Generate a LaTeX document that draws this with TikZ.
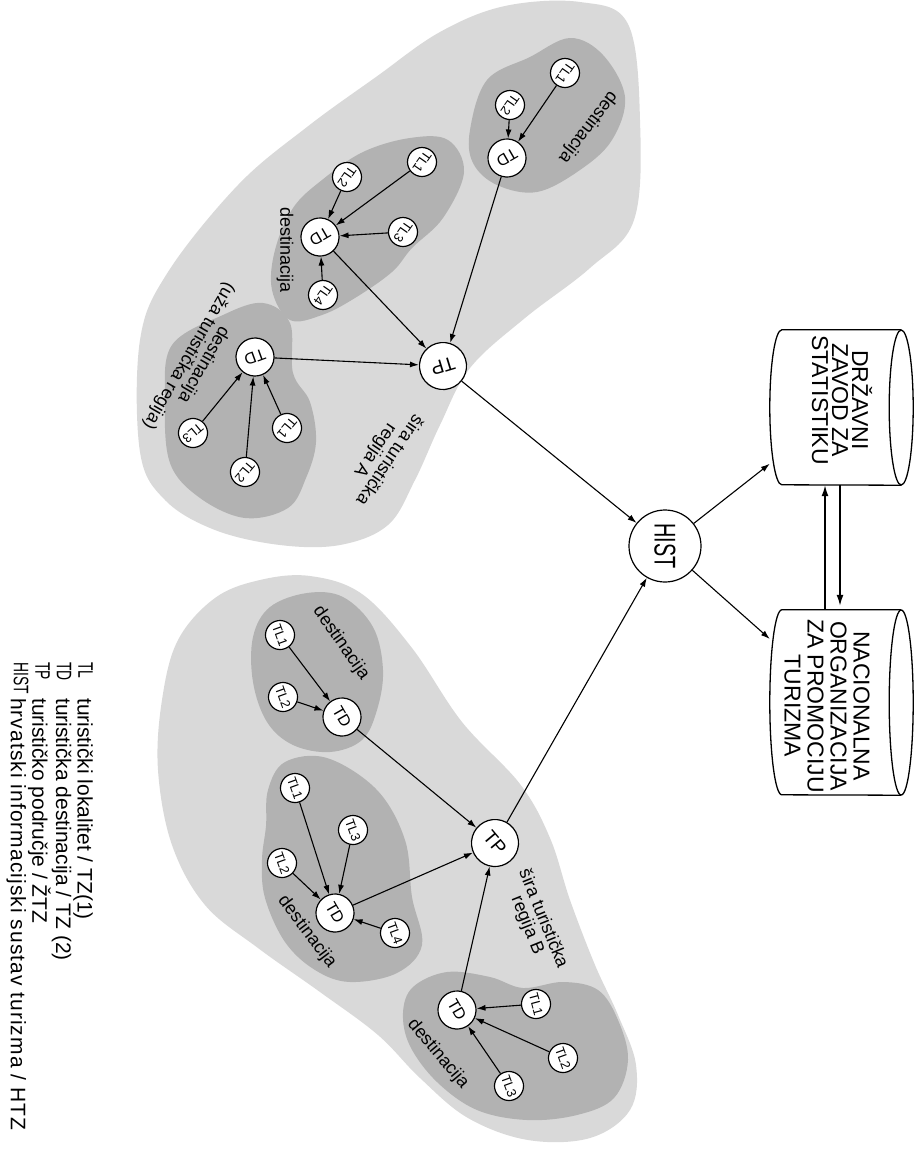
\documentclass[tikz,border=0pt]{standalone}
\usepackage{fontspec}
\setmainfont{Liberation Sans}
\newfontfamily\narrowfont{Liberation Sans}[FakeStretch=0.66]
\usepackage{tikz}
\usetikzlibrary{arrows.meta}
\definecolor{region}{gray}{0.85}
\definecolor{dest}{gray}{0.70}

\tikzset{
  tl/.style={circle,draw,line width=1.2pt,fill=white,inner sep=0pt,minimum size=29pt,font=\fontsize{13}{13}\selectfont},
  td/.style={circle,draw,line width=1.2pt,fill=white,inner sep=0pt,minimum size=38pt,font=\fontsize{16}{16}\selectfont},
  tp/.style={circle,draw,line width=1.2pt,fill=white,inner sep=0pt,minimum size=47pt,font=\fontsize{19}{19}\selectfont},
  lbl/.style={inner sep=0pt,align=center,font=\fontsize{18}{17}\selectfont},
  arr/.style={line width=1.1pt,-{Latex[length=9pt,width=6pt]}},
  bigarr/.style={line width=1.5pt,-{Latex[length=11pt,width=7pt]}},
  drumbox/.style={rectangle,inner sep=0pt,minimum width=143pt},
  drumtext/.style={inner sep=0pt,align=center,rotate=-90},
  legend/.style={anchor=north west,rotate=-90,inner sep=0pt,align=left},
}

\newcommand{\drum}[2]{%
  \draw[line width=1.3pt] ([xshift=-12pt]#1.north east) -- ([xshift=12pt]#1.north west)
    arc[start angle=90,end angle=270,x radius=12pt,y radius=#2] -- ([xshift=-12pt]#1.south east);
  \draw[line width=1.3pt] ([xshift=-12pt]#1.east) ellipse[x radius=12pt,y radius=#2];
}

\begin{document}
\begin{tikzpicture}[x=1pt,y=-1pt]
	\useasboundingbox (0,0) rectangle (916,1176);
	\fill[white] (0,0) rectangle (916,1176);

	\fill[region] plot[smooth cycle,tension=0.6] coordinates {(140,340) (168,272) (238,185) (307,127) (376,77) (440,32) (505,6) (580,2) (628,24) (640,120) (634,220) (590,268) (525,318) (470,368) (440,425) (415,480) (388,525) (340,545) (280,545) (215,530) (165,500) (140,452)};
	\fill[region] plot[smooth cycle,tension=0.6] coordinates {(158,770) (162,700) (178,640) (215,598) (260,580) (310,576) (362,594) (412,648) (462,722) (520,784) (550,838) (570,900) (595,965) (618,1015) (636,1065) (630,1110) (590,1138) (528,1140) (468,1118) (420,1078) (378,1035) (320,992) (258,948) (205,905) (172,845)};
	\fill[dest] plot[smooth cycle,tension=0.6] coordinates {(470,130) (487,80) (530,57) (570,38) (603,55) (625,97) (612,140) (580,170) (537,192) (497,185) (473,163)};
	\fill[dest] plot[smooth cycle,tension=0.6] coordinates {(275,250) (293,208) (322,180) (363,152) (410,138) (448,140) (464,172) (443,218) (412,248) (392,272) (355,298) (322,315) (290,320) (272,290)};
	\fill[dest] plot[smooth cycle,tension=0.6] coordinates {(172,345) (223,315) (263,303) (290,323) (293,373) (310,402) (316,442) (306,478) (288,508) (245,518) (200,498) (170,463) (165,400)};
	\fill[dest] plot[smooth cycle,tension=0.6] coordinates {(253,637) (270,607) (307,593) (343,597) (373,627) (383,670) (377,710) (362,740) (330,752) (293,745) (267,722) (253,682)};
	\fill[dest] plot[smooth cycle,tension=0.6] coordinates {(268,790) (285,762) (327,758) (377,790) (405,840) (412,897) (422,945) (397,973) (350,982) (315,970) (285,942) (265,898) (262,860) (266,826)};
	\fill[dest] plot[smooth cycle,tension=0.6] coordinates {(403,1013) (413,987) (447,972) (490,977) (523,988) (563,982) (598,990) (618,1020) (628,1060) (614,1098) (577,1115) (527,1120) (477,1110) (437,1082) (410,1046)};

	\coordinate (cHist) at (665,546);
	\coordinate (cTpA) at (443,366);
	\coordinate (cTpB) at (495,843);
	\coordinate (cA1) at (507,158);
	\coordinate (cA11) at (565,73);
	\coordinate (cA12) at (510,105);
	\coordinate (cA2) at (320,237);
	\coordinate (cA21) at (422,162);
	\coordinate (cA22) at (347,177);
	\coordinate (cA23) at (403,232);
	\coordinate (cA24) at (323,295);
	\coordinate (cA3) at (255,357);
	\coordinate (cA31) at (287,428);
	\coordinate (cA32) at (245,472);
	\coordinate (cA33) at (193,433);
	\coordinate (cB1) at (342,717);
	\coordinate (cB11) at (280,635);
	\coordinate (cB12) at (283,697);
	\coordinate (cB2) at (335,913);
	\coordinate (cB21) at (295,788);
	\coordinate (cB22) at (282,863);
	\coordinate (cB23) at (353,830);
	\coordinate (cB24) at (395,933);
	\coordinate (cB3) at (457,1010);
	\coordinate (cB31) at (536,1004);
	\coordinate (cB32) at (563,1058);
	\coordinate (cB33) at (509,1086);

	\node (dzs) at (841.5,407.5) [drumbox,minimum height=155pt] {};
	\node (nopt) at (841.5,702.5) [drumbox,minimum height=185pt] {};
	\drum{dzs}{77.5pt}
	\drum{nopt}{92.5pt}
	\node (dzsText) at (842,400) [drumtext,font=\fontsize{23}{20}\selectfont] {DRŽAVNI\\ZAVOD ZA\\STATISTIKU};
	\node (noptText) at (827,706) [drumtext,font=\fontsize{23}{23}\selectfont] {NACIONALNA\\ORGANIZACIJA\\ZA PROMOCIJU\\TURIZMA};

	\node (hist) at (cHist) [circle,draw,line width=1.2pt,fill=white,inner sep=0pt,minimum size=72pt,rotate=-90,font=\narrowfont\fontsize{30}{30}\selectfont] {HIST};
	\node (tpA) at (cTpA) [tp,rotate=-163] {TP};
	\node (tpB) at (cTpB) [tp,rotate=-50] {TP};

	\node (tdA1) at (cA1) [td,rotate=-150] {TD};
	\node (tlA11) at (cA11) [tl,rotate=-125] {TL1};
	\node (tlA12) at (cA12) [tl,rotate=-125] {TL2};
	\node (tdA2) at (cA2) [td,rotate=-150] {TD};
	\node (tlA21) at (cA21) [tl,rotate=-125] {TL1};
	\node (tlA22) at (cA22) [tl,rotate=-125] {TL2};
	\node (tlA23) at (cA23) [tl,rotate=-125] {TL3};
	\node (tlA24) at (cA24) [tl,rotate=-125] {TL4};
	\node (tdA3) at (cA3) [td,rotate=-160] {TD};
	\node (tlA31) at (cA31) [tl,rotate=-130] {TL1};
	\node (tlA32) at (cA32) [tl,rotate=-130] {TL2};
	\node (tlA33) at (cA33) [tl,rotate=-140] {TL3};

	\node (tdB1) at (cB1) [td,rotate=-60] {TD};
	\node (tlB11) at (cB11) [tl,rotate=-70] {TL1};
	\node (tlB12) at (cB12) [tl,rotate=-70] {TL2};
	\node (tdB2) at (cB2) [td,rotate=-60] {TD};
	\node (tlB21) at (cB21) [tl,rotate=-70] {TL1};
	\node (tlB22) at (cB22) [tl,rotate=-70] {TL2};
	\node (tlB23) at (cB23) [tl,rotate=-70] {TL3};
	\node (tlB24) at (cB24) [tl,rotate=-70] {TL4};
	\node (tdB3) at (cB3) [td,rotate=-60] {TD};
	\node (tlB31) at (cB31) [tl,rotate=-75] {TL1};
	\node (tlB32) at (cB32) [tl,rotate=-70] {TL2};
	\node (tlB33) at (cB33) [tl,rotate=-70] {TL3};

	\node (destA1) at (588,127) [lbl,rotate=-127] {destinacija};
	\node (destA2) at (285,250) [lbl,rotate=-90] {destinacija};
	\node (destA3) at (196,360) [lbl,rotate=-120] {destinacija\\(uža turistička regija)};
	\node (regA) at (382,455) [lbl,rotate=-124] {šira turistička\\regija A};
	\node (destB1) at (341,643) [lbl,rotate=-55] {destinacija};
	\node (destB2) at (307,932) [lbl,rotate=-53] {destinacija};
	\node (destB3) at (438,1054) [lbl,rotate=-50] {destinacija};
	\node (regB) at (535,922) [lbl,rotate=-68] {šira turistička\\regija B};

	\draw[arr] (tlA11) to[] (tdA1);
	\draw[arr] (tlA12) to[] (tdA1);
	\draw[arr] (tlA21) to[] (tdA2);
	\draw[arr] (tlA22) to[] (tdA2);
	\draw[arr] (tlA23) to[] (tdA2);
	\draw[arr] (tlA24) to[] (tdA2);
	\draw[arr] (tlA31) to[] (tdA3);
	\draw[arr] (tlA32) to[] (tdA3);
	\draw[arr] (tlA33) to[] (tdA3);
	\draw[arr] (tdA1) to[] (tpA);
	\draw[arr] (tdA2) to[] (tpA);
	\draw[arr] (tdA3) to[] (tpA);
	\draw[arr] (tlB11) to[] (tdB1);
	\draw[arr] (tlB12) to[] (tdB1);
	\draw[arr] (tlB21) to[] (tdB2);
	\draw[arr] (tlB22) to[] (tdB2);
	\draw[arr] (tlB23) to[] (tdB2);
	\draw[arr] (tlB24) to[] (tdB2);
	\draw[arr] (tlB31) to[] (tdB3);
	\draw[arr] (tlB32) to[] (tdB3);
	\draw[arr] (tlB33) to[] (tdB3);
	\draw[arr] (tdB1) to[] (tpB);
	\draw[arr] (tdB2) to[] (tpB);
	\draw[arr] (tdB3) to[] (tpB);
	\draw[arr] (tpA) to[] (hist);
	\draw[arr] (tpB) to[] (hist);
	\draw[arr] (hist) to[] (dzs);
	\draw[arr] (hist) to[] (nopt);
	\draw[bigarr] ([xshift=-16.5pt]nopt.north) to[] ([xshift=-16.5pt]dzs.south);
	\draw[bigarr,shorten >=4pt] ([xshift=-1.5pt]dzs.south) to[] ([xshift=-1.5pt]nopt.north);

	\node (legAbbr) at (93,662) [legend,font=\narrowfont\fontsize{21}{21.5}\selectfont] {TL\\TD\\TP\\HIST};
	\node (legText) at (93,698) [legend,font=\fontsize{21}{21.5}\selectfont] {turistički lokalitet / TZ(1)\\turistička destinacija / TZ (2)\\turističko područje / ŽTZ\\\addfontfeature{LetterSpace=5}hrvatski informacijski sustav turizma / HTZ};
\end{tikzpicture}
\end{document}
